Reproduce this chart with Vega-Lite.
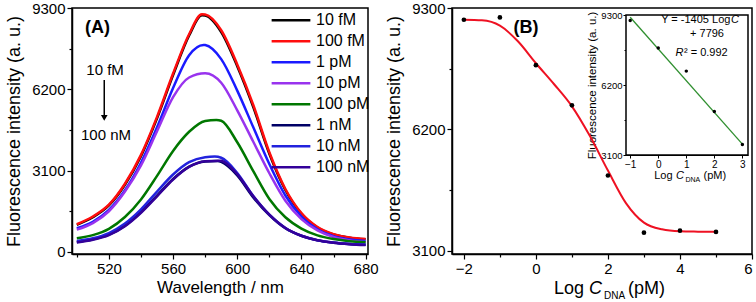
{
  "$schema": "https://vega.github.io/schema/vega-lite/v6.json",
  "background": "white",
  "padding": {"left": 4, "top": 0, "right": 0, "bottom": 0},
  "config": {
    "font": "Liberation Sans",
    "view": {"stroke": "black", "strokeWidth": 1.5},
    "axis": {"grid": false, "domainColor": "black", "domainWidth": 1.5, "tickColor": "black", "tickWidth": 1.2, "labelColor": "black", "titleColor": "black", "titleFontWeight": "normal", "labelFont": "Liberation Sans", "titleFont": "Liberation Sans"},
    "text": {"font": "Liberation Sans", "color": "black"}
  },
  "datasets": {
    "spectra": [
      {"c": "10 fM", "wl": 500, "v": 1030}, {"c": "10 fM", "wl": 510, "v": 1320}, {"c": "10 fM", "wl": 520, "v": 1770}, {"c": "10 fM", "wl": 530, "v": 2560}, {"c": "10 fM", "wl": 540, "v": 3650}, {"c": "10 fM", "wl": 550, "v": 5090}, {"c": "10 fM", "wl": 560, "v": 6740}, {"c": "10 fM", "wl": 570, "v": 8250}, {"c": "10 fM", "wl": 578, "v": 9020}, {"c": "10 fM", "wl": 580, "v": 9010}, {"c": "10 fM", "wl": 590, "v": 8380}, {"c": "10 fM", "wl": 600, "v": 7080}, {"c": "10 fM", "wl": 610, "v": 5520}, {"c": "10 fM", "wl": 620, "v": 3740}, {"c": "10 fM", "wl": 630, "v": 2360}, {"c": "10 fM", "wl": 640, "v": 1450}, {"c": "10 fM", "wl": 650, "v": 930}, {"c": "10 fM", "wl": 660, "v": 665}, {"c": "10 fM", "wl": 670, "v": 540}, {"c": "10 fM", "wl": 680, "v": 480},
      {"c": "100 fM", "wl": 500, "v": 1055}, {"c": "100 fM", "wl": 510, "v": 1350}, {"c": "100 fM", "wl": 520, "v": 1800}, {"c": "100 fM", "wl": 530, "v": 2600}, {"c": "100 fM", "wl": 540, "v": 3700}, {"c": "100 fM", "wl": 550, "v": 5150}, {"c": "100 fM", "wl": 560, "v": 6800}, {"c": "100 fM", "wl": 570, "v": 8300}, {"c": "100 fM", "wl": 578, "v": 9060}, {"c": "100 fM", "wl": 580, "v": 9050}, {"c": "100 fM", "wl": 590, "v": 8450}, {"c": "100 fM", "wl": 600, "v": 7150}, {"c": "100 fM", "wl": 610, "v": 5600}, {"c": "100 fM", "wl": 620, "v": 3800}, {"c": "100 fM", "wl": 630, "v": 2400}, {"c": "100 fM", "wl": 640, "v": 1480}, {"c": "100 fM", "wl": 650, "v": 950}, {"c": "100 fM", "wl": 660, "v": 680}, {"c": "100 fM", "wl": 670, "v": 550}, {"c": "100 fM", "wl": 680, "v": 490},
      {"c": "1 pM", "wl": 500, "v": 900}, {"c": "1 pM", "wl": 510, "v": 1150}, {"c": "1 pM", "wl": 520, "v": 1600}, {"c": "1 pM", "wl": 530, "v": 2350}, {"c": "1 pM", "wl": 540, "v": 3400}, {"c": "1 pM", "wl": 550, "v": 4750}, {"c": "1 pM", "wl": 560, "v": 6250}, {"c": "1 pM", "wl": 570, "v": 7500}, {"c": "1 pM", "wl": 579, "v": 7890}, {"c": "1 pM", "wl": 580, "v": 7885}, {"c": "1 pM", "wl": 590, "v": 7350}, {"c": "1 pM", "wl": 600, "v": 6150}, {"c": "1 pM", "wl": 610, "v": 4750}, {"c": "1 pM", "wl": 620, "v": 3350}, {"c": "1 pM", "wl": 630, "v": 2150}, {"c": "1 pM", "wl": 640, "v": 1350}, {"c": "1 pM", "wl": 650, "v": 860}, {"c": "1 pM", "wl": 660, "v": 600}, {"c": "1 pM", "wl": 670, "v": 470}, {"c": "1 pM", "wl": 680, "v": 420},
      {"c": "10 pM", "wl": 500, "v": 850}, {"c": "10 pM", "wl": 510, "v": 1100}, {"c": "10 pM", "wl": 520, "v": 1550}, {"c": "10 pM", "wl": 530, "v": 2300}, {"c": "10 pM", "wl": 540, "v": 3300}, {"c": "10 pM", "wl": 550, "v": 4600}, {"c": "10 pM", "wl": 560, "v": 5900}, {"c": "10 pM", "wl": 570, "v": 6650}, {"c": "10 pM", "wl": 580, "v": 6810}, {"c": "10 pM", "wl": 590, "v": 6450}, {"c": "10 pM", "wl": 600, "v": 5400}, {"c": "10 pM", "wl": 610, "v": 4200}, {"c": "10 pM", "wl": 620, "v": 3000}, {"c": "10 pM", "wl": 630, "v": 1950}, {"c": "10 pM", "wl": 640, "v": 1250}, {"c": "10 pM", "wl": 650, "v": 820}, {"c": "10 pM", "wl": 660, "v": 570}, {"c": "10 pM", "wl": 670, "v": 440}, {"c": "10 pM", "wl": 680, "v": 380},
      {"c": "100 pM", "wl": 500, "v": 520}, {"c": "100 pM", "wl": 510, "v": 640}, {"c": "100 pM", "wl": 520, "v": 880}, {"c": "100 pM", "wl": 530, "v": 1330}, {"c": "100 pM", "wl": 540, "v": 2000}, {"c": "100 pM", "wl": 550, "v": 2900}, {"c": "100 pM", "wl": 560, "v": 3850}, {"c": "100 pM", "wl": 570, "v": 4580}, {"c": "100 pM", "wl": 580, "v": 4990}, {"c": "100 pM", "wl": 587, "v": 5030}, {"c": "100 pM", "wl": 590, "v": 5000}, {"c": "100 pM", "wl": 600, "v": 4180}, {"c": "100 pM", "wl": 610, "v": 3080}, {"c": "100 pM", "wl": 620, "v": 2020}, {"c": "100 pM", "wl": 630, "v": 1320}, {"c": "100 pM", "wl": 640, "v": 890}, {"c": "100 pM", "wl": 650, "v": 630}, {"c": "100 pM", "wl": 660, "v": 490}, {"c": "100 pM", "wl": 670, "v": 410}, {"c": "100 pM", "wl": 680, "v": 370},
      {"c": "1 nM", "wl": 500, "v": 380}, {"c": "1 nM", "wl": 510, "v": 480}, {"c": "1 nM", "wl": 520, "v": 660}, {"c": "1 nM", "wl": 530, "v": 1000}, {"c": "1 nM", "wl": 540, "v": 1520}, {"c": "1 nM", "wl": 550, "v": 2150}, {"c": "1 nM", "wl": 560, "v": 2780}, {"c": "1 nM", "wl": 570, "v": 3250}, {"c": "1 nM", "wl": 580, "v": 3450}, {"c": "1 nM", "wl": 588, "v": 3470}, {"c": "1 nM", "wl": 590, "v": 3430}, {"c": "1 nM", "wl": 600, "v": 2920}, {"c": "1 nM", "wl": 610, "v": 2080}, {"c": "1 nM", "wl": 620, "v": 1400}, {"c": "1 nM", "wl": 630, "v": 900}, {"c": "1 nM", "wl": 640, "v": 610}, {"c": "1 nM", "wl": 650, "v": 440}, {"c": "1 nM", "wl": 660, "v": 350}, {"c": "1 nM", "wl": 670, "v": 300}, {"c": "1 nM", "wl": 680, "v": 270},
      {"c": "10 nM", "wl": 500, "v": 420}, {"c": "10 nM", "wl": 510, "v": 520}, {"c": "10 nM", "wl": 520, "v": 720}, {"c": "10 nM", "wl": 530, "v": 1080}, {"c": "10 nM", "wl": 540, "v": 1620}, {"c": "10 nM", "wl": 550, "v": 2300}, {"c": "10 nM", "wl": 560, "v": 2950}, {"c": "10 nM", "wl": 570, "v": 3420}, {"c": "10 nM", "wl": 580, "v": 3610}, {"c": "10 nM", "wl": 586, "v": 3635}, {"c": "10 nM", "wl": 590, "v": 3590}, {"c": "10 nM", "wl": 600, "v": 3010}, {"c": "10 nM", "wl": 610, "v": 2130}, {"c": "10 nM", "wl": 620, "v": 1420}, {"c": "10 nM", "wl": 630, "v": 910}, {"c": "10 nM", "wl": 640, "v": 615}, {"c": "10 nM", "wl": 650, "v": 445}, {"c": "10 nM", "wl": 660, "v": 355}, {"c": "10 nM", "wl": 670, "v": 305}, {"c": "10 nM", "wl": 680, "v": 275},
      {"c": "100 nM", "wl": 500, "v": 360}, {"c": "100 nM", "wl": 510, "v": 460}, {"c": "100 nM", "wl": 520, "v": 640}, {"c": "100 nM", "wl": 530, "v": 980}, {"c": "100 nM", "wl": 540, "v": 1490}, {"c": "100 nM", "wl": 550, "v": 2120}, {"c": "100 nM", "wl": 560, "v": 2760}, {"c": "100 nM", "wl": 570, "v": 3240}, {"c": "100 nM", "wl": 580, "v": 3460}, {"c": "100 nM", "wl": 589, "v": 3480}, {"c": "100 nM", "wl": 590, "v": 3475}, {"c": "100 nM", "wl": 600, "v": 2960}, {"c": "100 nM", "wl": 610, "v": 2120}, {"c": "100 nM", "wl": 620, "v": 1420}, {"c": "100 nM", "wl": 630, "v": 910}, {"c": "100 nM", "wl": 640, "v": 615}, {"c": "100 nM", "wl": 650, "v": 445}, {"c": "100 nM", "wl": 660, "v": 350}, {"c": "100 nM", "wl": 670, "v": 295}, {"c": "100 nM", "wl": 680, "v": 260}
    ],
    "cal": [
      {"x": -2, "y": 9000}, {"x": -1, "y": 9060}, {"x": 0, "y": 7840}, {"x": 1, "y": 6815}, {"x": 2, "y": 5024}, {"x": 3, "y": 3565}, {"x": 4, "y": 3616}, {"x": 5, "y": 3583}
    ],
    "fit": [
      {"x": -2, "y": 9000}, {"x": -1.5, "y": 8985}, {"x": -1, "y": 8850}, {"x": -0.5, "y": 8450}, {"x": 0, "y": 7890}, {"x": 0.5, "y": 7360}, {"x": 1, "y": 6790}, {"x": 1.5, "y": 6030}, {"x": 2, "y": 5150}, {"x": 2.5, "y": 4320}, {"x": 3, "y": 3820}, {"x": 3.5, "y": 3650}, {"x": 4, "y": 3600}, {"x": 4.5, "y": 3590}, {"x": 5, "y": 3585}
    ],
    "lin": [
      {"x": -1, "y": 9201}, {"x": 3, "y": 3581}
    ]
  },
  "hconcat": [
    {
      "width": 296,
      "height": 246,
      "layer": [
        {
          "data": {"name": "spectra"},
          "mark": {"type": "line", "strokeWidth": 2.5, "interpolate": "monotone"},
          "encoding": {
            "x": {"field": "wl", "type": "quantitative", "scale": {"domain": [497, 681.5], "nice": false, "zero": false},
              "axis": {"title": "Wavelength / nm", "orient": "bottom", "values": [500, 520, 540, 560, 580, 600, 620, 640, 660, 680], "tickCount": 30, "labelExpr": "datum.value % 40 == 0 ? datum.label : ''", "tickSize": {"condition": {"test": "datum.value % 40 == 0", "value": 5}, "value": 3}, "labelFontSize": 15, "labelPadding": 2, "titleFontSize": 17, "titlePadding": 3, "format": "d"}},
            "y": {"field": "v", "type": "quantitative", "scale": {"domain": [-80, 9300], "nice": false, "zero": false},
              "axis": {"title": "Fluorescence intensity (a. u.)", "orient": "left", "values": [0, 1550, 3100, 4650, 6200, 7750, 9300], "tickCount": 30, "labelExpr": "datum.value % 3100 == 0 ? datum.label : ''", "tickSize": {"condition": {"test": "datum.value % 3100 == 0", "value": 5}, "value": 3}, "labelFontSize": 15, "labelPadding": 2, "titleFontSize": 18, "titlePadding": 8, "format": "d"}},
            "color": {"field": "c", "type": "nominal",
              "scale": {"domain": ["10 fM", "100 fM", "1 pM", "10 pM", "100 pM", "1 nM", "10 nM", "100 nM"], "range": ["#000000", "#ff0d0d", "#1a1aff", "#9933ee", "#007700", "#000066", "#2222dd", "#330099"]},
              "legend": {"orient": "none", "legendX": 198, "legendY": 2, "title": null, "symbolType": "stroke", "symbolSize": 1500, "symbolStrokeWidth": 2.5, "labelFontSize": 16, "labelOffset": 4, "clipHeight": 20.4, "rowPadding": 0, "padding": 0, "labelColor": "black", "labelFont": "Liberation Sans"}}
          }
        },
        {
          "data": {"values": [{}]},
          "mark": {"type": "text", "text": "(A)", "fontWeight": "bold", "fontSize": 18, "baseline": "middle", "align": "center"},
          "encoding": {"x": {"datum": 512.9}, "y": {"datum": 8526}}
        },
        {
          "data": {"values": [{}]},
          "mark": {"type": "text", "text": "10 fM", "fontSize": 15, "baseline": "middle", "align": "center"},
          "encoding": {"x": {"datum": 517.6}, "y": {"datum": 6936}}
        },
        {
          "data": {"values": [{}]},
          "mark": {"type": "text", "text": "100 nM", "fontSize": 15, "baseline": "middle", "align": "center"},
          "encoding": {"x": {"datum": 518.2}, "y": {"datum": 4457}}
        },
        {
          "data": {"values": [{}]},
          "mark": {"type": "rule", "strokeWidth": 1.5, "color": "black"},
          "encoding": {"x": {"datum": 517.1}, "y": {"datum": 6555}, "y2": {"datum": 5182}}
        },
        {
          "data": {"values": [{}]},
          "mark": {"type": "point", "shape": "triangle-down", "filled": true, "color": "black", "size": 45, "opacity": 1},
          "encoding": {"x": {"datum": 517.1}, "y": {"datum": 5110}}
        }
      ]
    },
    {
      "width": 300,
      "height": 246,
      "resolve": {"scale": {"x": "independent", "y": "independent"}, "axis": {"x": "independent", "y": "independent"}},
      "layer": [
        {
          "layer": [
            {
              "data": {"name": "fit"},
              "mark": {"type": "line", "color": "#ee1122", "strokeWidth": 2, "interpolate": "monotone"},
              "encoding": {
                "x": {"field": "x", "type": "quantitative", "scale": {"domain": [-2.33, 6], "nice": false, "zero": false},
                  "axis": {"title": null, "orient": "bottom", "values": [-2, -1, 0, 1, 2, 3, 4, 5, 6], "tickCount": 30, "labelExpr": "datum.value % 2 == 0 ? datum.label : ''", "tickSize": {"condition": {"test": "datum.value % 2 == 0", "value": 5}, "value": 3}, "labelFontSize": 15, "labelPadding": 2, "format": "d"}},
                "y": {"field": "y", "type": "quantitative", "scale": {"domain": [3020, 9300], "nice": false, "zero": false},
                  "axis": {"title": "Fluorescence intensity (a. u.)", "orient": "left", "values": [3100, 4650, 6200, 7750, 9300], "tickCount": 30, "labelExpr": "datum.value % 3100 == 0 ? datum.label : ''", "tickSize": {"condition": {"test": "datum.value % 3100 == 0", "value": 5}, "value": 3}, "labelFontSize": 15, "labelPadding": 2, "titleFontSize": 18, "titlePadding": 8, "format": "d"}}
              }
            },
            {
              "data": {"name": "cal"},
              "mark": {"type": "point", "shape": "circle", "filled": true, "color": "black", "size": 22, "opacity": 1},
              "encoding": {"x": {"field": "x", "type": "quantitative"}, "y": {"field": "y", "type": "quantitative"}}
            },
            {
              "data": {"values": [{}]},
              "mark": {"type": "text", "text": "(B)", "fontWeight": "bold", "fontSize": 18, "baseline": "middle", "align": "center"},
              "encoding": {"x": {"datum": -0.275}, "y": {"datum": 8802}}
            },
            {
              "data": {"values": [{}]},
              "mark": {"type": "text", "text": "Log", "fontSize": 18, "baseline": "alphabetic", "align": "right", "dx": -5},
              "encoding": {"x": {"datum": 1.474}, "y": {"datum": 1998}}
            },
            {
              "data": {"values": [{}]},
              "mark": {"type": "text", "text": "C", "fontSize": 18, "fontStyle": "italic", "baseline": "alphabetic", "align": "left"},
              "encoding": {"x": {"datum": 1.474}, "y": {"datum": 1998}}
            },
            {
              "data": {"values": [{}]},
              "mark": {"type": "text", "text": "DNA", "fontSize": 10, "baseline": "alphabetic", "align": "left", "dx": 15, "dy": 5},
              "encoding": {"x": {"datum": 1.474}, "y": {"datum": 1998}}
            },
            {
              "data": {"values": [{}]},
              "mark": {"type": "text", "text": "(pM)", "fontSize": 18, "baseline": "alphabetic", "align": "left", "dx": 39},
              "encoding": {"x": {"datum": 1.474}, "y": {"datum": 1998}}
            }
          ]
        },
        {
          "layer": [
            {
              "data": {"values": [{}]},
              "mark": {"type": "rect", "fill": "white", "stroke": "black", "strokeWidth": 1.5},
              "encoding": {
                "x": {"datum": -1.15, "type": "quantitative", "scale": {"domain": [-1.15, 3.2], "range": [174, 296], "nice": false, "zero": false},
                  "axis": {"title": null, "orient": "bottom", "offset": -99, "values": [-1, -0.5, 0, 0.5, 1, 1.5, 2, 2.5, 3], "tickCount": 30, "labelExpr": "datum.value % 1 == 0 ? datum.label : ''", "tickSize": {"condition": {"test": "datum.value % 1 == 0", "value": 3}, "value": 2}, "labelFontSize": 10, "labelPadding": 1, "domainWidth": 1, "tickWidth": 1, "format": "d"}},
                "x2": {"datum": 3.2},
                "y": {"datum": 3100, "type": "quantitative", "scale": {"domain": [3100, 9300], "range": [147, 7], "nice": false, "zero": false},
                  "axis": {"title": "Fluorescence intensity (a. u.)", "orient": "left", "offset": -174, "values": [3100, 4650, 6200, 7750, 9300], "tickCount": 30, "labelExpr": "datum.value % 3100 == 0 ? datum.label : ''", "tickSize": {"condition": {"test": "datum.value % 3100 == 0", "value": 3}, "value": 2}, "labelFontSize": 9.5, "labelPadding": 1, "titleFontSize": 11.5, "titlePadding": 3, "domainWidth": 1, "tickWidth": 1, "format": "d"}},
                "y2": {"datum": 9300}
              }
            },
            {
              "data": {"name": "lin"},
              "mark": {"type": "line", "color": "#2f8f2f", "strokeWidth": 1.3},
              "encoding": {"x": {"field": "x", "type": "quantitative"}, "y": {"field": "y", "type": "quantitative"}}
            },
            {
              "data": {"name": "cal"},
              "transform": [{"filter": "datum.x >= -1 && datum.x <= 3"}],
              "mark": {"type": "point", "shape": "circle", "filled": true, "color": "black", "size": 12, "opacity": 1},
              "encoding": {"x": {"field": "x", "type": "quantitative"}, "y": {"field": "y", "type": "quantitative"}}
            },
            {
              "data": {"values": [{}]},
              "mark": {"type": "text", "text": "Y = -1405 Log", "fontSize": 11, "baseline": "middle", "align": "right"},
              "encoding": {"x": {"datum": 2.572}, "y": {"datum": 9079}}
            },
            {
              "data": {"values": [{}]},
              "mark": {"type": "text", "text": "C", "fontSize": 11, "fontStyle": "italic", "baseline": "middle", "align": "left", "dx": 0.5},
              "encoding": {"x": {"datum": 2.572}, "y": {"datum": 9079}}
            },
            {
              "data": {"values": [{}]},
              "mark": {"type": "text", "text": "+ 7796", "fontSize": 11, "baseline": "middle", "align": "center"},
              "encoding": {"x": {"datum": 1.738}, "y": {"datum": 8446}}
            },
            {
              "data": {"values": [{}]},
              "mark": {"type": "text", "text": "R", "fontSize": 11, "fontStyle": "italic", "baseline": "middle", "align": "right"},
              "encoding": {"x": {"datum": 0.9}, "y": {"datum": 7604}}
            },
            {
              "data": {"values": [{}]},
              "mark": {"type": "text", "text": "² = 0.992", "fontSize": 11, "baseline": "middle", "align": "left", "dx": 0.5},
              "encoding": {"x": {"datum": 0.9}, "y": {"datum": 7604}}
            },
            {
              "data": {"values": [{}]},
              "mark": {"type": "text", "text": "Log", "fontSize": 11, "baseline": "alphabetic", "align": "right", "dx": -3.5},
              "encoding": {"x": {"datum": 0.633}, "y": {"datum": 2050}}
            },
            {
              "data": {"values": [{}]},
              "mark": {"type": "text", "text": "C", "fontSize": 11, "fontStyle": "italic", "baseline": "alphabetic", "align": "left"},
              "encoding": {"x": {"datum": 0.633}, "y": {"datum": 2050}}
            },
            {
              "data": {"values": [{}]},
              "mark": {"type": "text", "text": "DNA", "fontSize": 7, "baseline": "alphabetic", "align": "left", "dx": 9.5, "dy": 3},
              "encoding": {"x": {"datum": 0.633}, "y": {"datum": 2050}}
            },
            {
              "data": {"values": [{}]},
              "mark": {"type": "text", "text": "(pM)", "fontSize": 11, "baseline": "alphabetic", "align": "left", "dx": 27.5},
              "encoding": {"x": {"datum": 0.633}, "y": {"datum": 2050}}
            }
          ]
        }
      ]
    }
  ],
  "spacing": 84,
  "bounds": "flush"
}
